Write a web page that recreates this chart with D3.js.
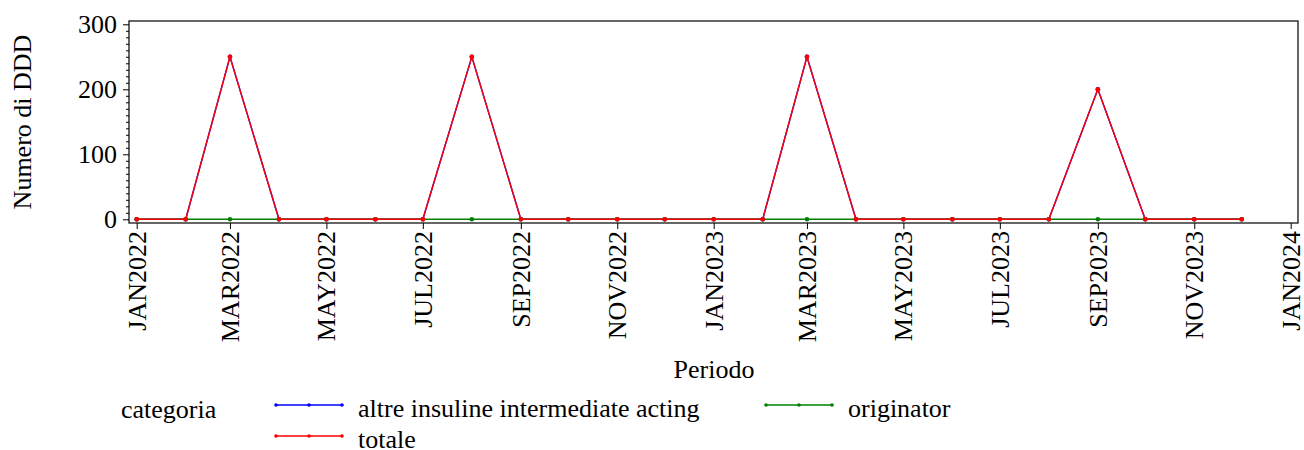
<!DOCTYPE html>
<html><head><meta charset="utf-8">
<script src="https://cdn.jsdelivr.net/npm/d3@7"></script>
<style>body{margin:0;background:#fff} text{font-family:"Times New Roman",Times,"Liberation Serif",Tinos,"Noto Serif","DejaVu Serif",serif}</style>
</head><body><svg id="c" width="1304" height="450"></svg>
<script>
const months = ["2022-01","2022-02","2022-03","2022-04","2022-05","2022-06","2022-07","2022-08","2022-09","2022-10","2022-11","2022-12",
"2023-01","2023-02","2023-03","2023-04","2023-05","2023-06","2023-07","2023-08","2023-09","2023-10","2023-11","2023-12"];
const altreInsuline = [0,0,250,0,0,0,0,250,0,0,0,0, 0,0,250,0,0,0,0,0,200,0,0,0];
const originator    = [0,0,0,0,0,0,0,0,0,0,0,0, 0,0,0,0,0,0,0,0,0,0,0,0];
const totale        = [0,0,250,0,0,0,0,250,0,0,0,0, 0,0,250,0,0,0,0,0,200,0,0,0];
const yTicks = [0,100,200,300];
const xTickLabels = ["JAN2022","MAR2022","MAY2022","JUL2022","SEP2022","NOV2022","JAN2023","MAR2023","MAY2023","JUL2023","SEP2023","NOV2023","JAN2024"];
const seriesNames = ["altre insuline intermediate acting","originator","totale"];
const colors = ["#0000ff","#008000","#ff0000"];

const FF = '"Times New Roman",Times,"Liberation Serif",Tinos,"Noto Serif","DejaVu Serif",serif';
const FS = 26;
const svg = d3.select("#c");
const parse = d3.utcParse("%Y-%m");
const dates = months.map(parse);
const L=129, R=1298, T=21, B=223;
const x0 = d3.scaleUtc().domain([Date.UTC(2022,0,1), Date.UTC(2024,0,1)]).range([136.7,1290.7]);
const x = d3.scaleUtc().domain([x0.invert(L), x0.invert(R)]).range([L,R]);
const y0 = d3.scaleLinear().domain([0,300]).range([219.3,24.3]);
const y = d3.scaleLinear().domain([y0.invert(B), y0.invert(T)]).range([B,T]);

function styleText(sel){ sel.attr("font-family",null).style("font-family",FF).style("font-size",FS+"px").attr("fill","#000"); }

// frame
svg.append("rect").attr("x",L).attr("y",T).attr("width",R-L).attr("height",B-T).attr("fill","none").attr("stroke","#000").attr("stroke-width",1.2);

// y axis
const yAxis = d3.axisLeft(y).tickValues(yTicks).tickSize(6).tickPadding(6).tickFormat(d3.format("d"));
const ga = svg.append("g").attr("transform",`translate(${L},0)`).call(yAxis);
ga.attr("font-family",null).attr("font-size",null);
ga.select(".domain").remove();
ga.selectAll("text").call(styleText);
const minor = d3.range(0,301,10).filter(v=>v%100!==0);
svg.append("g").attr("transform",`translate(${L},0)`).call(d3.axisLeft(y).tickValues(minor).tickSize(3).tickFormat(""))
  .select(".domain").remove();

// x axis
const xt = xTickLabels.map(s=>d3.utcParse("%b%Y")(s));
const xAxis = d3.axisBottom(x).tickValues(xt).tickSize(6).tickFormat((d,i)=>xTickLabels[i]);
const gx = svg.append("g").attr("transform",`translate(0,${B})`).call(xAxis);
gx.attr("font-family",null).attr("font-size",null);
gx.select(".domain").remove();
gx.selectAll("text").call(styleText)
  .attr("transform","rotate(-90)").attr("text-anchor","end").attr("x",-8).attr("y",0).attr("dy","0.33em");

// labels
svg.append("text").attr("transform","translate(31,122) rotate(-90)").attr("text-anchor","middle").call(styleText).text("Numero di DDD");
svg.append("text").attr("x",714).attr("y",378).attr("text-anchor","middle").call(styleText).text("Periodo");

// series
const data = [altreInsuline, originator, totale];
const line = d3.line().x((d,i)=>x(dates[i])).y(d=>y(d));
[0,1,2].forEach(k=>{
  svg.append("path").datum(data[k]).attr("d",line).attr("fill","none").attr("stroke",colors[k]).attr("stroke-width",1.4);
  svg.append("g").selectAll("circle").data(data[k]).join("circle")
    .attr("cx",(d,i)=>x(dates[i])).attr("cy",d=>y(d)).attr("r",2.3).attr("fill",colors[k]);
});

// legend
svg.append("text").attr("x",121).attr("y",418).call(styleText).text("categoria");
const leg = [{k:0,x:276,y:405},{k:1,x:766,y:405},{k:2,x:276,y:436}];
leg.forEach(o=>{
  const g = svg.append("g");
  g.append("line").attr("x1",o.x).attr("x2",o.x+66).attr("y1",o.y).attr("y2",o.y).attr("stroke",colors[o.k]).attr("stroke-width",1.4);
  [0,33,66].forEach(dx=>g.append("circle").attr("cx",o.x+dx).attr("cy",o.y).attr("r",1.8).attr("fill",colors[o.k]));
  g.append("text").attr("x",o.x+82).attr("y",o.y+12).call(styleText).text(seriesNames[o.k]);
});
</script></body></html>
